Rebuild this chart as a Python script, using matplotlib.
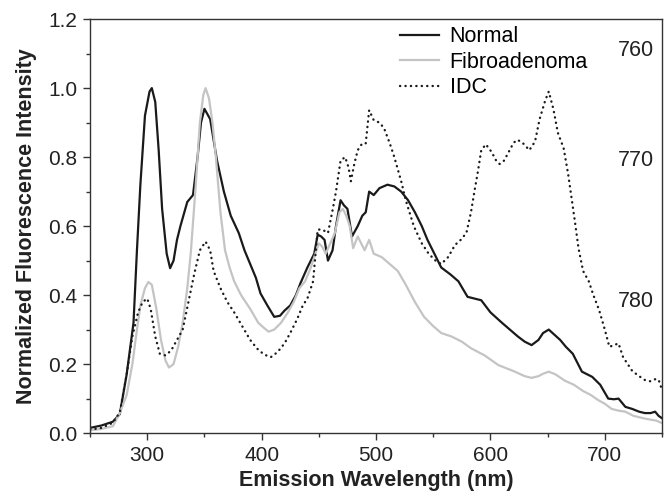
import matplotlib
matplotlib.use('Agg')
import matplotlib.pyplot as plt
from matplotlib.ticker import MultipleLocator

plt.rcParams['font.family'] = ['Liberation Sans', 'DejaVu Sans']

# Normal
normal_wl = [250, 260, 270, 276, 282, 288, 291, 294, 298, 302, 304, 307, 310, 313, 317, 320, 323,
             326, 329, 335, 340, 344, 347, 350, 355, 361, 367, 373, 380, 385, 390, 395, 399,
             405, 411, 416, 420, 425, 430, 434, 440, 446, 449, 452, 455, 458, 462, 465, 469,
             472, 475, 479, 484, 488, 491, 494, 498, 503, 510, 516, 522, 528, 534, 540, 545,
             551, 557, 565, 572, 580, 586, 592, 600, 610, 617, 624, 630, 636, 642, 646, 651,
             656, 661, 666, 672, 680, 689, 696, 703, 708, 712, 718, 724, 730, 735, 740, 744,
             747, 750]
normal_val = [0.015, 0.022, 0.033, 0.055, 0.17, 0.32, 0.53, 0.72, 0.92, 0.99, 1.0, 0.96, 0.82,
              0.65, 0.52, 0.478, 0.50, 0.56, 0.60, 0.67, 0.69, 0.80, 0.90, 0.94, 0.91, 0.79,
              0.70, 0.63, 0.58, 0.53, 0.49, 0.45, 0.405, 0.37, 0.337, 0.34, 0.355, 0.37, 0.40,
              0.435, 0.48, 0.52, 0.575, 0.57, 0.56, 0.50, 0.53, 0.60, 0.675, 0.66, 0.65, 0.57,
              0.60, 0.63, 0.64, 0.70, 0.69, 0.71, 0.72, 0.715, 0.70, 0.675, 0.64, 0.60, 0.56,
              0.52, 0.48, 0.46, 0.44, 0.395, 0.39, 0.385, 0.35, 0.32, 0.30, 0.28, 0.265, 0.255,
              0.27, 0.29, 0.30, 0.285, 0.27, 0.25, 0.23, 0.178, 0.163, 0.14, 0.10, 0.098, 0.10,
              0.076, 0.07, 0.062, 0.058, 0.058, 0.062, 0.05, 0.043]

# Fibroadenoma
fibro_wl = [250, 260, 270, 276, 282, 287, 291, 294, 298, 301, 304, 308, 312, 316, 319, 323, 327,
            331, 335, 338, 342, 346, 349, 351, 354, 357, 360, 364, 368, 372, 376, 382, 390, 397,
            402, 406, 411, 417, 423, 428, 433, 438, 443, 447, 450, 453, 456, 460, 464, 468, 471,
            474, 477, 480, 484, 487, 490, 494, 498, 505, 512, 519, 526, 534, 542, 550, 557,
            566, 575, 583, 595, 607, 620, 630, 636, 642, 646, 651, 657, 665, 673, 681, 688,
            694, 700, 706, 712, 718, 725, 735, 745, 750]
fibro_val = [0.008, 0.012, 0.02, 0.058, 0.11, 0.20, 0.30, 0.37, 0.42, 0.438, 0.43, 0.36, 0.27,
             0.21, 0.19, 0.20, 0.25, 0.32, 0.42, 0.52, 0.70, 0.90, 0.98, 1.0, 0.97, 0.90, 0.80,
             0.64, 0.53, 0.48, 0.44, 0.40, 0.36, 0.32, 0.305, 0.294, 0.30, 0.32, 0.35, 0.38,
             0.42, 0.44, 0.48, 0.52, 0.55, 0.54, 0.52, 0.55, 0.58, 0.64, 0.65, 0.63, 0.60,
             0.536, 0.57, 0.55, 0.53, 0.56, 0.52, 0.51, 0.49, 0.47, 0.43, 0.38, 0.337, 0.31,
             0.29, 0.28, 0.265, 0.246, 0.225, 0.197, 0.18, 0.165, 0.16, 0.165, 0.172, 0.178,
             0.17, 0.152, 0.14, 0.122, 0.11, 0.096, 0.085, 0.07, 0.065, 0.062, 0.05, 0.042,
             0.036, 0.029]

# IDC
idc_wl = [250, 260, 270, 276, 282, 287, 292, 296, 300, 303, 307, 311, 316, 321, 326, 331, 336,
          341, 346, 351, 355, 358, 364, 370, 376, 383, 390, 396, 402, 408, 414, 420, 425, 431,
          436, 440, 445, 449, 453, 458, 462, 465, 469, 473, 476, 478, 481, 484, 488, 491, 494,
          498, 503, 507, 512, 516, 522, 526, 533, 540, 546, 552, 557, 563, 569, 574, 579,
          583, 586, 589, 592, 596, 601, 605, 608, 612, 616, 620, 623, 627, 630, 634, 639,
          643, 648, 651, 655, 659, 664, 668, 671, 674, 677, 681, 686, 690, 695, 700, 704,
          708, 712, 716, 720, 724, 730, 735, 740, 744, 747, 750]
idc_val = [0.01, 0.015, 0.03, 0.06, 0.17, 0.28, 0.35, 0.38, 0.39, 0.36, 0.28, 0.23, 0.225, 0.24,
           0.27, 0.30, 0.38, 0.46, 0.53, 0.555, 0.53, 0.47, 0.42, 0.38, 0.35, 0.31, 0.27, 0.245,
           0.228, 0.22, 0.235, 0.26, 0.29, 0.33, 0.37, 0.39, 0.44, 0.59, 0.59, 0.58, 0.646,
           0.70, 0.79, 0.80, 0.77, 0.73, 0.78, 0.82, 0.84, 0.84, 0.936, 0.907, 0.90, 0.884,
           0.84, 0.80, 0.73, 0.675, 0.60, 0.55, 0.52, 0.50, 0.49, 0.51, 0.545, 0.56, 0.58,
           0.64, 0.70, 0.757, 0.82, 0.837, 0.815, 0.79, 0.78, 0.79, 0.815, 0.84, 0.85, 0.845,
           0.835, 0.82, 0.845, 0.91, 0.965, 0.99, 0.94, 0.87, 0.826, 0.75, 0.68, 0.61, 0.536,
           0.47, 0.44, 0.40, 0.357, 0.30, 0.25, 0.255, 0.26, 0.22, 0.20, 0.18, 0.165, 0.154,
           0.15, 0.156, 0.155, 0.125]

annot_text = ['760', '770', '780']
annot_y = [1.11, 0.79, 0.38]

fig = plt.figure(figsize=(6.67, 5.03), dpi=100)
ax = fig.add_axes([0.135, 0.139, 0.8575, 0.823])

ax.plot(normal_wl, normal_val, color='#1a1a1a', lw=1.6, label='Normal')
ax.plot(fibro_wl, fibro_val, color='#c4c4c4', lw=1.6, label='Fibroadenoma')
ax.plot(idc_wl, idc_val, color='#1a1a1a', lw=1.7, linestyle=(0, (0.1, 2.2)),
        dash_capstyle='round', label='IDC')

for t, y in zip(annot_text, annot_y):
    ax.text(727, y, t, fontsize=15.5, ha='center', va='center', color='#222222')

ax.set_xlim(250, 750)
ax.set_ylim(0, 1.2)
ax.xaxis.set_major_locator(MultipleLocator(100))
ax.xaxis.set_minor_locator(MultipleLocator(50))
ax.yaxis.set_major_locator(MultipleLocator(0.2))
ax.yaxis.set_minor_locator(MultipleLocator(0.1))
ax.set_yticks([0.0, 0.2, 0.4, 0.6, 0.8, 1.0, 1.2])
ax.set_yticklabels(['0.0', '0.2', '0.4', '0.6', '0.8', '1.0', '1.2'])
ax.tick_params(which='both', direction='out', top=False, right=False, labelsize=15,
               colors='#333333', labelcolor='#222222')
ax.tick_params(which='major', length=5, width=1, pad=4)
ax.tick_params(which='minor', length=3, width=1)
for s in ax.spines.values():
    s.set_color('#333333')
    s.set_linewidth(1)

ax.set_xlabel('Emission Wavelength (nm)', fontsize=15.5, fontweight='bold', color='#222222',
              labelpad=4)
ax.set_ylabel('Normalized Fluorescence Intensity', fontsize=15.5, fontweight='bold',
              color='#222222', labelpad=8)

ax.legend(loc='upper left', bbox_to_anchor=(0.527, 1.003), frameon=False, fontsize=15.5,
          handlelength=1.8, handletextpad=0.5, labelspacing=0.2, borderaxespad=0.0)

fig.savefig('out.png', dpi=100)
